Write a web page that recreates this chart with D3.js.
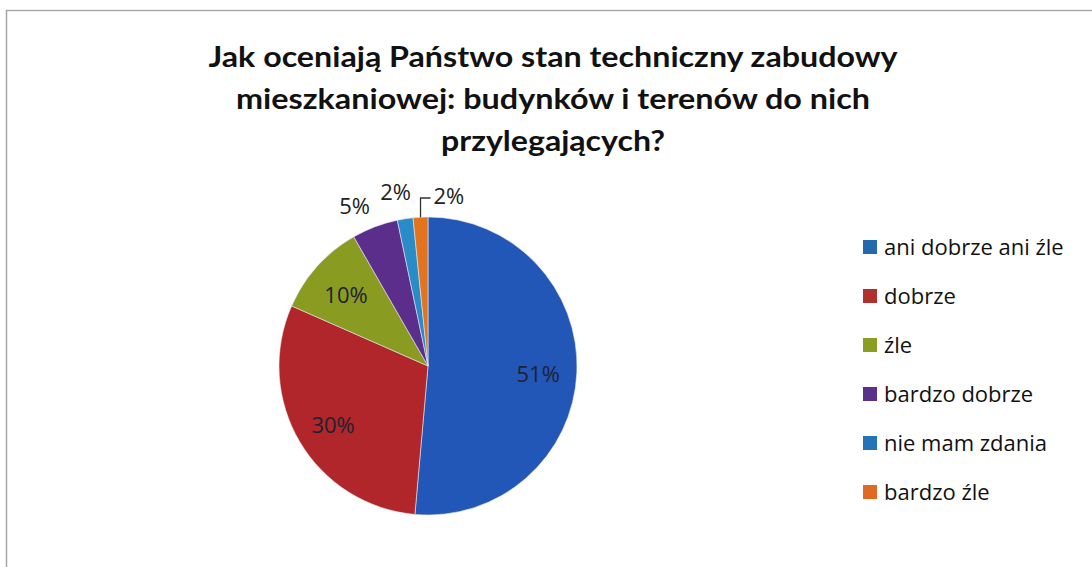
<!DOCTYPE html>
<html><head><meta charset="utf-8">
<script src="https://cdn.jsdelivr.net/npm/d3@7"></script>
<style>html,body{margin:0;padding:0;background:#fff;}</style>
</head><body>
<svg id="chart" width="1092" height="567"></svg>
<script>
const titleLines = ["Jak oceniają Państwo stan techniczny zabudowy","mieszkaniowej: budynków i terenów do nich","przylegających?"];
const categories = ["ani dobrze ani źle","dobrze","źle","bardzo dobrze","nie mam zdania","bardzo źle"];
const values = [51.4, 30.2, 10.1, 5.0, 1.7, 1.6];
const sliceColors = ["#2257B8","#B0262A","#8A9B22","#5B2E8C","#2A8CC6","#E2731F"];
const legendColors = ["#2468B0","#B0302E","#8A9E24","#5A3088","#2474B6","#E06A22"];

const svg = d3.select("#chart");
const W = 1092, H = 567;
svg.append("rect").attr("width",W).attr("height",H).attr("fill","#fff");
// chart frame
svg.append("path").attr("d",`M6.5,${H} L6.5,10.5 L${W},10.5`).attr("fill","none").attr("stroke","#a8a8a8").attr("stroke-width",1.5);

// title
const titleWidths = [689, 634, 224];
const tg = svg.append("g");
titleLines.forEach((t,i)=>{
  tg.append("text").attr("x",553).attr("y",67+i*42).attr("text-anchor","middle")
    .attr("font-family","Lato, 'Open Sans', sans-serif").attr("font-weight","bold").attr("font-size",29)
    .attr("fill","#111").attr("textLength",titleWidths[i]).attr("lengthAdjust","spacingAndGlyphs").text(t);
});

// pie
const cx = 428, cy = 366, r = 149;
const data = categories.map((c,i)=>({cat:c, value:values[i], i}));
const pie = d3.pie().value(d=>d.value).sort(null).startAngle(0).endAngle(2*Math.PI);
const arcs = pie(data);
const arc = d3.arc().innerRadius(0).outerRadius(r);
const g = svg.append("g").attr("transform",`translate(${cx},${cy})`);
g.selectAll("path.slice").data(arcs).join("path").attr("class","slice")
  .attr("d",arc).attr("fill",d=>sliceColors[d.data.i]).attr("stroke","#e8e8f0").attr("stroke-width",0.6);

const fmt = v => Math.round(v) + "%";
const labelFont = "'Open Sans', 'Noto Sans', sans-serif";
const inArc = d3.arc().innerRadius(r*0.74).outerRadius(r*0.74);
arcs.forEach(a=>{
  const v = a.data.value;
  const mid = (a.startAngle+a.endAngle)/2;
  if (v >= 8) {
    const [x,y] = inArc.centroid(a);
    g.append("text").attr("x",x).attr("y",y+11).attr("text-anchor","middle")
      .attr("font-family",labelFont).attr("font-size",22).attr("fill","#1e2230").text(fmt(v));
  } else if (a.index === arcs.length-1) {
    // leader line label
    const ex = Math.sin(mid)*r, ey = -Math.cos(mid)*r;
    const ly = -r - 19;
    g.append("path").attr("d",`M${ex},${ey} L${ex},${ly} L${ex+10},${ly}`)
      .attr("fill","none").attr("stroke","#333").attr("stroke-width",1.3);
    g.append("text").attr("x",ex+13).attr("y",ly+6).attr("text-anchor","start")
      .attr("font-family",labelFont).attr("font-size",22).attr("fill","#222").text(fmt(v));
  } else {
    const rr = r + 14;
    const x = Math.sin(mid)*rr, y = -Math.cos(mid)*rr;
    g.append("text").attr("x",x-(a.index===4? -8:0)).attr("y",y-(a.index===4?5:0)).attr("text-anchor","end")
      .attr("font-family",labelFont).attr("font-size",22).attr("fill","#222").text(fmt(v));
  }
});

// legend
const lg = svg.append("g");
categories.forEach((c,i)=>{
  const y = 247 + i*49;
  lg.append("rect").attr("x",863).attr("y",y-7).attr("width",14).attr("height",14).attr("fill",legendColors[i]);
  lg.append("text").attr("x",884).attr("y",y+8).attr("font-family",labelFont).attr("font-size",22)
    .attr("fill","#111").text(c);
});
</script>
</body></html>
